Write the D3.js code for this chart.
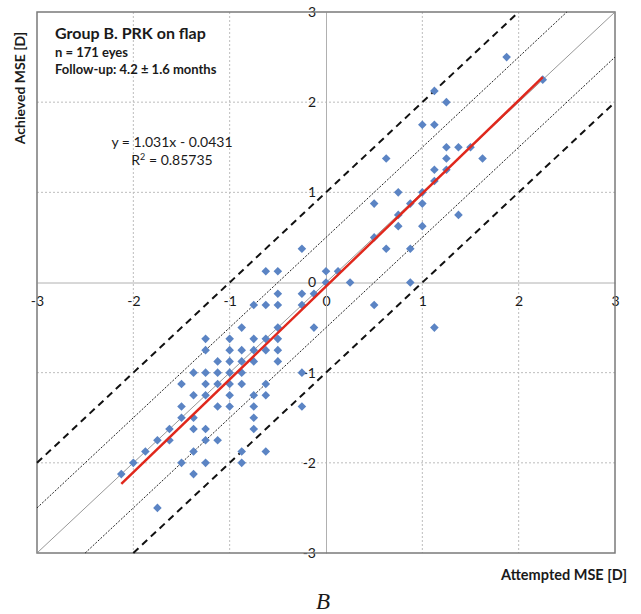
<!DOCTYPE html>
<html>
<head>
<meta charset="utf-8">
<script src="https://cdn.jsdelivr.net/npm/d3@7"></script>
<style>
  html, body { margin: 0; padding: 0; background: #fff; }
  svg { display: block; }
  text { font-family: Lato, "Open Sans", sans-serif; fill: #1a1a1a; }
</style>
</head>
<body>
<svg id="chart" width="641" height="614"></svg>
<script>
// Attempted vs achieved manifest spherical equivalent (D), one entry per visible eye marker
const attempted = [
  2.25, 1.875, 1.125, 1.25, 1.0, 1.125, 1.25, 1.375, 1.5, 0.625, 1.25, 1.625,
  1.125, 1.25, 1.125, 0.75, 1.0, 0.5, 0.875, 1.0, 0.75, 1.375, 0.75, 1.0,
  0.5, 0.625, 0.875, -0.25, 0, 0.125, -0.625, -0.5, 0, 0.25, 0.875, 0.5, 1.125,
  -0.5, -0.25, -0.125,
  -0.75, -0.625, -0.5, -0.25,
  -0.875, -0.5, -0.125,
  -1.25, -1.0, -0.75, -0.625, -0.5,
  -1.25, -1.0, -0.875, -0.75, -0.625, -0.5,
  -1.125, -1.0, -0.875, -0.75, -0.5,
  -1.375, -1.25, -1.125, -1.0, -0.875, -0.25,
  -1.5, -1.25, -1.125, -1.0, -0.875, -0.625,
  -1.375, -1.25, -1.0, -0.75, -0.625,
  -1.5, -1.125, -1.0, -0.75, -0.25,
  -1.5, -1.375, -0.75,
  -1.625, -1.375, -1.25, -0.75,
  -1.75, -1.625, -1.25, -1.125,
  -1.875, -1.375, -0.875, -0.625,
  -2.0, -1.5, -1.25, -0.875,
  -2.125, -1.375,
  -1.75
];
const achieved = [
  2.25, 2.5, 2.125, 2.0, 1.75, 1.75, 1.5, 1.5, 1.5, 1.375, 1.375, 1.375,
  1.25, 1.25, 1.125, 1.0, 1.0, 0.875, 0.875, 0.875, 0.75, 0.75, 0.625, 0.625,
  0.5, 0.375, 0.375, 0.375, 0.125, 0.125, 0.125, 0.125, 0, 0, 0, -0.25, -0.5,
  -0.125, -0.125, -0.125,
  -0.25, -0.25, -0.25, -0.25,
  -0.5, -0.5, -0.5,
  -0.625, -0.625, -0.625, -0.625, -0.625,
  -0.75, -0.75, -0.75, -0.75, -0.75, -0.75,
  -0.875, -0.875, -0.875, -0.875, -0.875,
  -1.0, -1.0, -1.0, -1.0, -1.0, -1.0,
  -1.125, -1.125, -1.125, -1.125, -1.125, -1.125,
  -1.25, -1.25, -1.25, -1.25, -1.25,
  -1.375, -1.375, -1.375, -1.375, -1.375,
  -1.5, -1.5, -1.5,
  -1.625, -1.625, -1.625, -1.625,
  -1.75, -1.75, -1.75, -1.75,
  -1.875, -1.875, -1.875, -1.875,
  -2.0, -2.0, -2.0, -2.0,
  -2.125, -2.125,
  -2.5
];

const axisTicks = [-3, -2, -1, 0, 1, 2, 3];
const tickLabels = ["-3", "-2", "-1", "0", "1", "2", "3"];
const trend = { slope: 1.031, intercept: -0.0431, r2: 0.85735, from: -2.125, to: 2.25 };
const refOffsets = [-1, -0.5, 0, 0.5, 1];   // reference lines y = x + offset
const titleLines = ["Group B. PRK on flap", "n = 171 eyes", "Follow-up: 4.2 \u00b1  1.6 months"];

const svg = d3.select("#chart");
const x = d3.scaleLinear().domain([-3, 3]).range([37, 615]);
const y = d3.scaleLinear().domain([-3, 3]).range([553, 12]);

// dotted grid
const grid = svg.append("g");
axisTicks.filter(t => t !== 0 && Math.abs(t) !== 3).forEach(t => {
  grid.append("line").attr("x1", x(t)).attr("x2", x(t)).attr("y1", y(3)).attr("y2", y(-3))
    .attr("stroke", "#bdbdbd").attr("stroke-width", 1).attr("stroke-dasharray", "2,2");
  grid.append("line").attr("y1", y(t)).attr("y2", y(t)).attr("x1", x(-3)).attr("x2", x(3))
    .attr("stroke", "#bdbdbd").attr("stroke-width", 1).attr("stroke-dasharray", "2,2");
});

// axes crossing at the origin
const label = t => tickLabels[axisTicks.indexOf(t)];
const xAxis = d3.axisBottom(x).tickValues(axisTicks).tickFormat(label).tickSize(0).tickPadding(14);
const yAxis = d3.axisLeft(y).tickValues(axisTicks).tickFormat(label).tickSize(0).tickPadding(10);
const gx = svg.append("g").attr("transform", `translate(0,${y(0)})`).call(xAxis);
const gy = svg.append("g").attr("transform", `translate(${x(0)},0)`).call(yAxis);
[gx, gy].forEach(g => {
  g.select(".domain").attr("stroke", "#b0b0b0").attr("stroke-width", 1);
  g.selectAll("text").attr("font-family", "Lato, sans-serif").attr("font-size", 14).attr("fill", "#1a1a1a");
});

// plot frame
svg.append("rect").attr("x", x(-3)).attr("y", y(3))
  .attr("width", x(3) - x(-3)).attr("height", y(-3) - y(3))
  .attr("fill", "none").attr("stroke", "#7a7a7a").attr("stroke-width", 1.5);

// identity and tolerance lines, clipped to the frame
const refStyle = {
  "-1": { stroke: "#111", width: 2, dash: "7,5" },
  "-0.5": { stroke: "#222", width: 1, dash: "2,1.5" },
  "0": { stroke: "#8c8c8c", width: 0.9, dash: null },
  "0.5": { stroke: "#222", width: 1, dash: "2,1.5" },
  "1": { stroke: "#111", width: 2, dash: "7,5" }
};
refOffsets.forEach(o => {
  const x0 = Math.max(-3, -3 - o), x1 = Math.min(3, 3 - o);
  const s = refStyle[String(o)];
  const ln = svg.append("line")
    .attr("x1", x(x0)).attr("y1", y(x0 + o)).attr("x2", x(x1)).attr("y2", y(x1 + o))
    .attr("stroke", s.stroke).attr("stroke-width", s.width);
  if (s.dash) ln.attr("stroke-dasharray", s.dash);
});

// eye markers
const diamond = "M0,-4.3L4.3,0L0,4.3L-4.3,0Z";
svg.append("g").selectAll("path").data(d3.range(attempted.length)).join("path")
  .attr("d", diamond)
  .attr("transform", i => `translate(${x(attempted[i])},${y(achieved[i])})`)
  .attr("fill", "#5b84c4");

// linear fit
svg.append("line")
  .attr("x1", x(trend.from)).attr("y1", y(trend.slope * trend.from + trend.intercept))
  .attr("x2", x(trend.to)).attr("y2", y(trend.slope * trend.to + trend.intercept))
  .attr("stroke", "#e0281c").attr("stroke-width", 2.5);

// header block
svg.append("text").attr("x", 55).attr("y", 39).attr("font-weight", "bold").attr("font-size", 16)
  .text(titleLines[0]);
svg.append("text").attr("x", 55).attr("y", 57).attr("font-weight", "bold").attr("font-size", 13)
  .text(titleLines[1]);
svg.append("text").attr("x", 55).attr("y", 74).attr("font-weight", "bold").attr("font-size", 13)
  .text(titleLines[2]);

// regression equation
const fmt = v => v.toString();
svg.append("text").attr("x", 172).attr("y", 147).attr("text-anchor", "middle").attr("font-size", 14)
  .text(`y = ${fmt(trend.slope)}x - ${fmt(Math.abs(trend.intercept))}`);
const r2 = svg.append("text").attr("x", 172).attr("y", 165).attr("text-anchor", "middle").attr("font-size", 14);
r2.append("tspan").text("R");
r2.append("tspan").attr("dy", -5).attr("font-size", 9).text("2");
r2.append("tspan").attr("dy", 5).text(` = ${fmt(trend.r2)}`);

// axis titles
svg.append("text").attr("transform", "translate(25,88) rotate(-90)").attr("text-anchor", "middle")
  .attr("font-weight", "bold").attr("font-size", 14).text("Achieved MSE [D]");
svg.append("text").attr("x", 627).attr("y", 580).attr("text-anchor", "end")
  .attr("font-weight", "bold").attr("font-size", 14.5).text("Attempted MSE [D]");

// panel letter
svg.append("text").attr("x", 323).attr("y", 609).attr("text-anchor", "middle")
  .attr("font-style", "italic").attr("font-size", 23)
  .style("font-family", "'Liberation Serif', serif").text("B");
</script>
</body>
</html>
